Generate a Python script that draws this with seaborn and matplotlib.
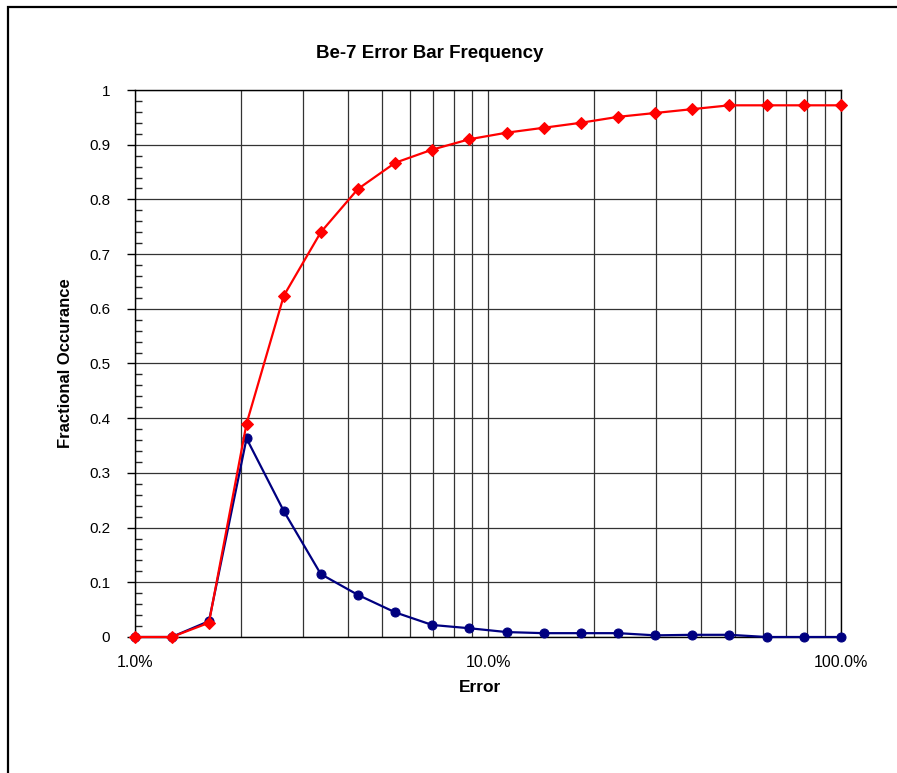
import matplotlib
matplotlib.use("Agg")
import matplotlib.pyplot as plt
import matplotlib.ticker as mticker
from matplotlib.patches import Rectangle
import pandas as pd
import seaborn as sns

# error bin centres (fraction)
error = [0.0100, 0.0127, 0.0162, 0.0207, 0.0264, 0.0336, 0.0428, 0.0546, 0.0695, 0.0886,
         0.113, 0.144, 0.183, 0.234, 0.298, 0.379, 0.483, 0.616, 0.785, 1.000]

# fractional occurrence per bin (blue) and cumulative (red)
frequency = [0.0, 0.0, 0.029, 0.363, 0.230, 0.115, 0.077, 0.045, 0.022, 0.016,
             0.009, 0.007, 0.007, 0.007, 0.003, 0.004, 0.004, 0.0, 0.0, 0.0]
cumulative = [0.0, 0.0, 0.026, 0.390, 0.624, 0.740, 0.819, 0.867, 0.891, 0.910,
              0.922, 0.931, 0.940, 0.951, 0.958, 0.965, 0.972, 0.972, 0.972, 0.972]

df = pd.DataFrame({"error": error, "frequency": frequency, "cumulative": cumulative})

sns.set_theme(style="white")
plt.rcParams["font.family"] = ["Liberation Sans", "DejaVu Sans"]
plt.rcParams["text.color"] = "black"
plt.rcParams["axes.labelcolor"] = "black"

fig = plt.figure(figsize=(8.97, 7.73), dpi=100)
ax = fig.add_axes([135 / 897, 1 - 637 / 773, 706 / 897, 547 / 773])

sns.lineplot(data=df, x="error", y="cumulative", ax=ax, color="#ff0000", lw=1.6,
             marker="D", markersize=6, markeredgecolor="#ff0000", clip_on=False, zorder=4)
sns.lineplot(data=df, x="error", y="frequency", ax=ax, color="#000080", lw=1.6,
             marker="o", markersize=6.5, markeredgecolor="#000080", clip_on=False, zorder=3)

ax.set_xscale("log")
ax.set_xlim(0.01, 1.0)
ax.set_ylim(0, 1)

ax.xaxis.set_major_locator(mticker.FixedLocator([0.01, 0.1, 1.0]))
ax.xaxis.set_major_formatter(mticker.FixedFormatter(["1.0%", "10.0%", "100.0%"]))
ax.xaxis.set_minor_locator(mticker.LogLocator(base=10, subs=range(2, 10)))
ax.xaxis.set_minor_formatter(mticker.NullFormatter())
ax.yaxis.set_major_locator(mticker.MultipleLocator(0.1))
ax.yaxis.set_minor_locator(mticker.MultipleLocator(0.02))
ax.yaxis.set_major_formatter(mticker.FuncFormatter(
    lambda v, p: "0" if abs(v) < 1e-9 else ("1" if abs(v - 1) < 1e-9 else f"{v:.1f}")))

ax.grid(which="both", axis="x", color="#333333", lw=0.9)
ax.grid(which="major", axis="y", color="#333333", lw=0.9)
ax.set_axisbelow(True)

ax.tick_params(axis="x", which="both", length=0, pad=13, labelsize=11.5, colors="black")
ax.tick_params(axis="y", which="major", direction="out", length=6, width=1, pad=12,
               labelsize=11, colors="black", left=True)
ax.tick_params(axis="y", which="minor", direction="in", length=5, width=1, left=True)

for s in ax.spines.values():
    s.set_color("black")
    s.set_linewidth(1.0)

ax.set_xlabel("Error", fontsize=12.5, fontweight="bold")
ax.xaxis.set_label_coords((480 - 135) / 706, (637 - 688) / 547)
ax.xaxis.label.set_va("center")
ax.set_ylabel("Fractional Occurance", fontsize=12, fontweight="bold")
ax.yaxis.set_label_coords((65 - 135) / 706, 0.5)
ax.yaxis.label.set_va("center")
fig.text(430 / 897, 1 - 53 / 773, "Be-7 Error Bar Frequency", ha="center", va="center",
         fontsize=13.5, fontweight="bold", color="black")

# outer chart frame (runs off the right and bottom of the image)
fig.patches.append(Rectangle((8 / 897, -0.2), 1.5, 1.2 - 7 / 773, transform=fig.transFigure,
                             fill=False, edgecolor="black", lw=1.6))

fig.savefig("out.png", dpi=100)
